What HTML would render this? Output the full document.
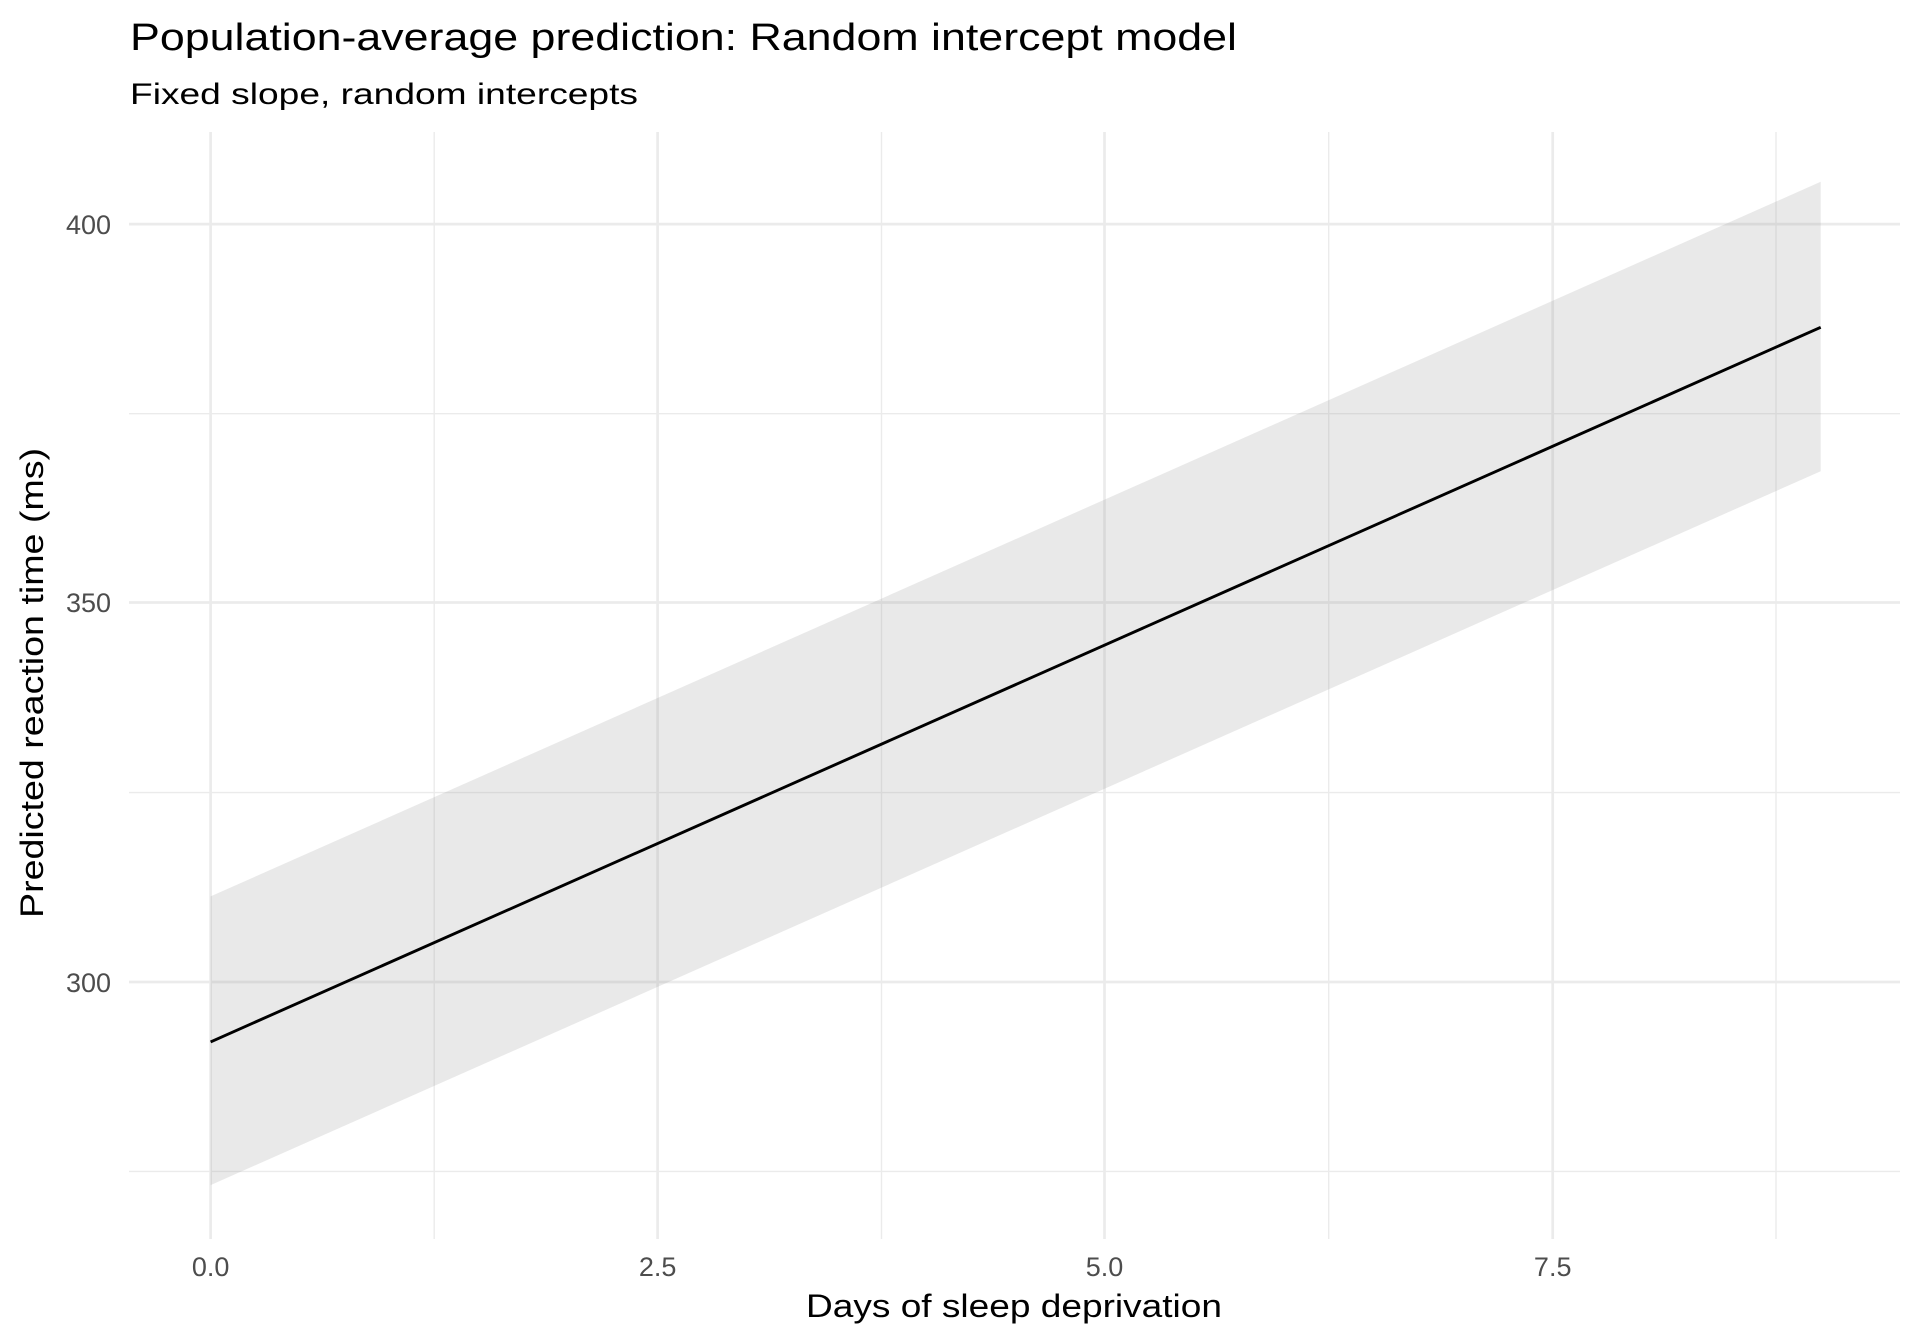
<!DOCTYPE html>
<html><head><meta charset="utf-8"><style>html,body{margin:0;padding:0;background:#fff}svg{display:block}</style></head>
<body>
<svg width="1920" height="1344" viewBox="0 0 1920 1344" xmlns="http://www.w3.org/2000/svg" font-family="Liberation Sans, Arial, sans-serif">
<rect width="1920" height="1344" fill="#fff"/>
<g stroke="#ebebeb" stroke-width="1.4">
<line x1="129" x2="1900" y1="413.7" y2="413.7"/>
<line x1="129" x2="1900" y1="792.6" y2="792.6"/>
<line x1="129" x2="1900" y1="1171.4" y2="1171.4"/>
<line y1="132" y2="1239" x1="434.2" x2="434.2"/>
<line y1="132" y2="1239" x1="881.5" x2="881.5"/>
<line y1="132" y2="1239" x1="1328.7" x2="1328.7"/>
<line y1="132" y2="1239" x1="1776" x2="1776"/>
</g>
<g stroke="#ebebeb" stroke-width="2.7">
<line x1="129" x2="1900" y1="224.1" y2="224.1"/>
<line x1="129" x2="1900" y1="602.5" y2="602.5"/>
<line x1="129" x2="1900" y1="982" y2="982"/>
<line y1="132" y2="1239" x1="210.6" x2="210.6"/>
<line y1="132" y2="1239" x1="657.6" x2="657.6"/>
<line y1="132" y2="1239" x1="1104.5" x2="1104.5"/>
<line y1="132" y2="1239" x1="1552.7" x2="1552.7"/>
</g>
<polygon points="210.6,896.4 1820.7,181.8 1820.7,471.2 210.6,1185.1" fill="#999" fill-opacity="0.22"/>
<line x1="210.6" y1="1041.9" x2="1820.7" y2="327.3" stroke="#000" stroke-width="2.9"/>
<g fill="#4d4d4d" font-size="27" text-anchor="end">
<text x="111" y="234">400</text>
<text x="111" y="612">350</text>
<text x="111" y="992">300</text>
</g>
<g fill="#4d4d4d" font-size="27" text-anchor="middle">
<text x="210.6" y="1276">0.0</text>
<text x="657.6" y="1276">2.5</text>
<text x="1104.5" y="1276">5.0</text>
<text x="1552.7" y="1276">7.5</text>
</g>
<text x="1014" y="1317" font-size="32" text-anchor="middle" textLength="416" lengthAdjust="spacingAndGlyphs">Days of sleep deprivation</text>
<text transform="translate(43,683) rotate(-90)" font-size="32" text-anchor="middle" textLength="470" lengthAdjust="spacingAndGlyphs">Predicted reaction time (ms)</text>
<text x="130" y="50" font-size="38" textLength="1107" lengthAdjust="spacingAndGlyphs">Population-average prediction: Random intercept model</text>
<text x="130" y="104" font-size="30" textLength="508" lengthAdjust="spacingAndGlyphs">Fixed slope, random intercepts</text>
</svg>
</body></html>
